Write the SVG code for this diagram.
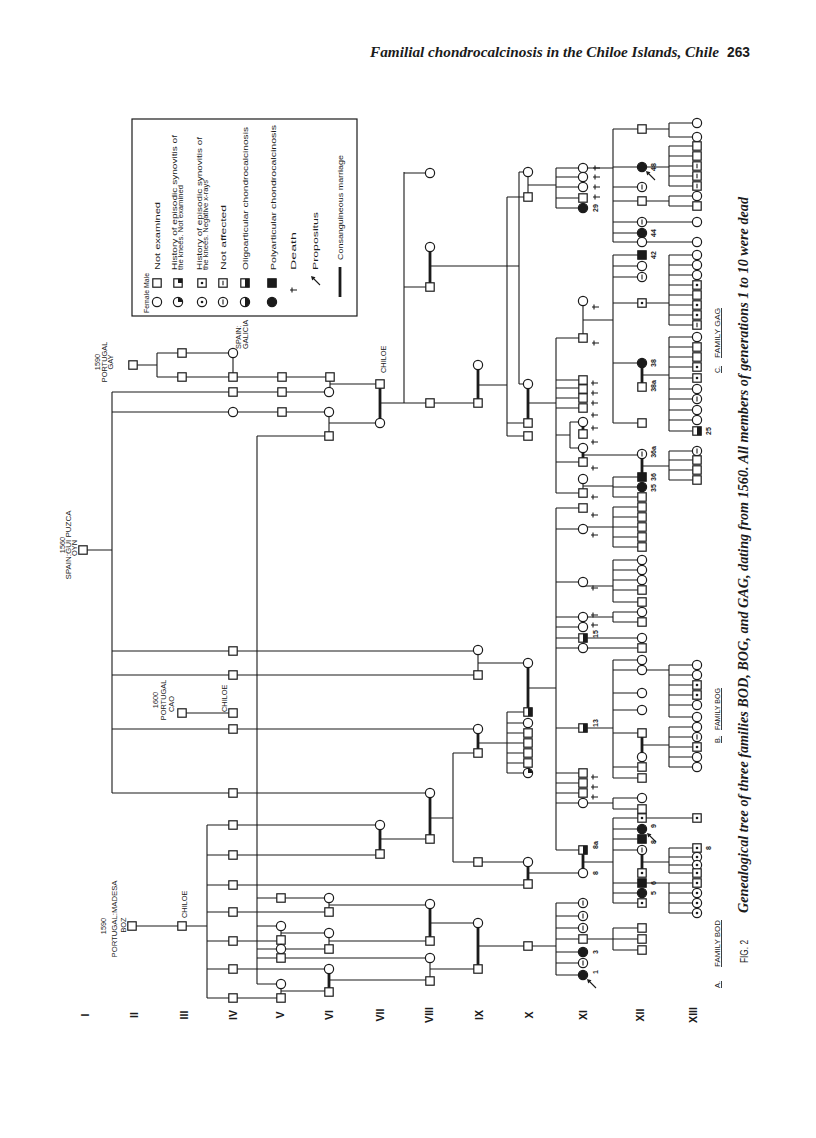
<svg xmlns="http://www.w3.org/2000/svg" width="816" height="1138" viewBox="0 0 816 1138">
<style>
.l{stroke:#1b1b1b;stroke-width:1.1;fill:none}
.t{stroke:#1b1b1b;stroke-width:2.8;fill:none}
.s{fill:#fff;stroke:#1b1b1b;stroke-width:1.2}
.k{fill:#1b1b1b}
text{font-family:"Liberation Sans","DejaVu Sans",Arial,sans-serif;fill:#1b1b1b}
.lg{font-size:7.6px}
.pl{font-size:7.4px}
.nm{font-size:7px;font-weight:bold}
.rn{font-family:"Liberation Serif","Times New Roman",serif;font-size:10.5px;font-weight:bold}
.cap{font-family:"Liberation Serif","Times New Roman",serif;font-style:italic;font-weight:bold}
.fam{font-size:7.5px;text-decoration:underline}
</style>
<defs>
<rect id="M" class="s" x="-4.2" y="-4.2" width="8.4" height="8.4"/>
<circle id="F" class="s" r="4.6"/>
<rect id="Mf" class="k" x="-4.2" y="-4.2" width="8.4" height="8.4" stroke="#1b1b1b" stroke-width="1.2"/>
<circle id="Ff" class="k" r="4.6" stroke="#1b1b1b" stroke-width="1.2"/>
<g id="Mh"><use href="#M"/><rect class="k" x="0" y="-4.2" width="4.2" height="8.4"/></g>
<g id="Fh"><use href="#F"/><path class="k" d="M0,-4.6A4.6,4.6 0 0 1 0,4.6Z"/></g>
<g id="Mq"><use href="#M"/><rect class="k" x="0" y="-4.2" width="4.2" height="4.2"/></g>
<g id="Fq"><use href="#F"/><path class="k" d="M0,0V-4.6A4.6,4.6 0 0 1 4.6,0Z"/></g>
<g id="Md"><use href="#M"/><circle class="k" r="1.3"/></g>
<g id="Fd"><use href="#F"/><circle class="k" r="1.3"/></g>
<g id="Mn"><use href="#M"/><path class="l" d="M0,-2.3V2.3"/></g>
<g id="Fn"><use href="#F"/><path class="l" d="M0,-2.5V2.5"/></g>
<path id="X" class="l" d="M-3,0H4M-1,-2.6V2.6"/>
<g id="A"><path class="l" d="M1.5,1.5L9,9"/><path class="k" d="M0,0L4.5,1.2L1.2,4.5Z"/></g>
</defs>
<rect width="816" height="1138" fill="#fff"/>

<!-- header and caption -->
<text x="370" y="57" class="cap" font-size="15" textLength="349" lengthAdjust="spacingAndGlyphs">Familial chondrocalcinosis in the Chiloe Islands, Chile</text>
<text x="727" y="57" font-family="Liberation Serif,serif" font-weight="bold" font-size="15" textLength="23" lengthAdjust="spacingAndGlyphs">263</text>
<text transform="translate(748,963) rotate(-90)" font-family="Liberation Serif,serif" font-size="11" textLength="23" lengthAdjust="spacingAndGlyphs">FIG. 2</text>
<text transform="translate(748,913) rotate(-90)" class="cap" font-size="14" textLength="716" lengthAdjust="spacingAndGlyphs">Genealogical tree of three families BOD, BOG, and GAG, dating from 1560. All members of generations 1 to 10 were dead</text>

<!-- generation labels -->
<g id="gen-labels" class="rn" text-anchor="middle">
<text transform="translate(89,1015) rotate(-90)">I</text>
<text transform="translate(138,1015) rotate(-90)">II</text>
<text transform="translate(188,1015) rotate(-90)">III</text>
<text transform="translate(237,1015) rotate(-90)">IV</text>
<text transform="translate(284,1015) rotate(-90)">V</text>
<text transform="translate(333,1015) rotate(-90)">VI</text>
<text transform="translate(384,1015) rotate(-90)">VII</text>
<text transform="translate(433,1015) rotate(-90)">VIII</text>
<text transform="translate(483,1015) rotate(-90)">IX</text>
<text transform="translate(533,1015) rotate(-90)">X</text>
<text transform="translate(587,1015) rotate(-90)">XI</text>
<text transform="translate(644,1015) rotate(-90)">XII</text>
<text transform="translate(697,1015) rotate(-90)">XIII</text>
</g>

<!-- family labels -->
<g id="family-labels" class="fam">
<text transform="translate(720,988) rotate(-90)" textLength="7" lengthAdjust="spacingAndGlyphs">A.</text>
<text transform="translate(720,967) rotate(-90)" textLength="47" lengthAdjust="spacingAndGlyphs">FAMILY BOD</text>
<text transform="translate(720,743) rotate(-90)" textLength="7" lengthAdjust="spacingAndGlyphs">B.</text>
<text transform="translate(720,730) rotate(-90)" textLength="42" lengthAdjust="spacingAndGlyphs">FAMILY BOG</text>
<text transform="translate(720,373) rotate(-90)" textLength="7" lengthAdjust="spacingAndGlyphs">C.</text>
<text transform="translate(720,358) rotate(-90)" textLength="50" lengthAdjust="spacingAndGlyphs">FAMILY GAG</text>
</g>

<!-- legend -->
<g id="legend">
<rect x="132" y="119" width="225" height="197" fill="none" stroke="#1b1b1b" stroke-width="1.2"/>
<text class="lg" transform="translate(149,313) rotate(-90)" textLength="40" lengthAdjust="spacingAndGlyphs">Female Male</text>
<use href="#F" x="157" y="302"/><use href="#M" x="157" y="283"/>
<text class="lg" transform="translate(160,270) rotate(-90)" textLength="68" lengthAdjust="spacingAndGlyphs">Not examined</text>
<use href="#Fq" x="178" y="302"/><use href="#Mq" x="178" y="283"/>
<text class="lg" transform="translate(176.5,270) rotate(-90)" textLength="135" lengthAdjust="spacingAndGlyphs">History of episodic synovitis of</text>
<text class="lg" transform="translate(183,270) rotate(-90)" textLength="85" lengthAdjust="spacingAndGlyphs">the knees. Not examined</text>
<use href="#Fd" x="202" y="302"/><use href="#Md" x="202" y="283"/>
<text class="lg" transform="translate(201.5,270) rotate(-90)" textLength="133" lengthAdjust="spacingAndGlyphs">History of episodic synovitis of</text>
<text class="lg" transform="translate(208,270) rotate(-90)" textLength="90" lengthAdjust="spacingAndGlyphs">the knees. Negative x-rays</text>
<use href="#Fn" x="223" y="302"/><use href="#Mn" x="223" y="283"/>
<text class="lg" transform="translate(226,270) rotate(-90)" textLength="65" lengthAdjust="spacingAndGlyphs">Not affected</text>
<use href="#Fh" x="245" y="302"/><use href="#Mh" x="245" y="283"/>
<text class="lg" transform="translate(248,270) rotate(-90)" textLength="143" lengthAdjust="spacingAndGlyphs">Oligoarticular chondrocalcinosis</text>
<use href="#Ff" x="272" y="302"/><use href="#Mf" x="272" y="283"/>
<text class="lg" transform="translate(275.5,270) rotate(-90)" textLength="145" lengthAdjust="spacingAndGlyphs">Polyarticular chondrocalcinosis</text>
<use href="#X" x="293" y="290"/>
<text class="lg" transform="translate(296,270) rotate(-90)" textLength="38" lengthAdjust="spacingAndGlyphs">Death</text>
<use href="#A" x="311" y="276"/>
<text class="lg" transform="translate(318,270) rotate(-90)" textLength="58" lengthAdjust="spacingAndGlyphs">Propositus</text>
<path class="t" d="M340,267V297"/>
<text class="lg" transform="translate(343,260) rotate(-90)" textLength="105" lengthAdjust="spacingAndGlyphs">Consanguineous marriage</text>
</g>

<!-- place labels -->
<g id="place-labels" class="pl" text-anchor="middle">
<text transform="translate(65,545) rotate(-90)">1560</text>
<text transform="translate(71,545) rotate(-90)" textLength="69" lengthAdjust="spacingAndGlyphs">SPAIN:GUI PUZCA</text>
<text transform="translate(77,548) rotate(-90)">OYN</text>
<text transform="translate(100,362) rotate(-90)">1590</text>
<text transform="translate(106.5,362) rotate(-90)">PORTUGAL</text>
<text transform="translate(112.5,362) rotate(-90)">GAY</text>
<text transform="translate(106,926) rotate(-90)">1590</text>
<text transform="translate(117,919) rotate(-90)" textLength="77" lengthAdjust="spacingAndGlyphs">PORTUGAL:MADESA</text>
<text transform="translate(126,925) rotate(-90)">BOZ</text>
<text transform="translate(158,700) rotate(-90)">1600</text>
<text transform="translate(166,700) rotate(-90)">PORTUGAL</text>
<text transform="translate(174,704) rotate(-90)">CAO</text>
<text transform="translate(241,349) rotate(-90)" text-anchor="start">SPAIN:</text>
<text transform="translate(248,349) rotate(-90)" text-anchor="start">GALICIA</text>
<text transform="translate(187,918) rotate(-90)" text-anchor="start">CHILOE</text>
<text transform="translate(227,712) rotate(-90)" text-anchor="start">CHILOE</text>
<text transform="translate(386,373) rotate(-90)" text-anchor="start">CHILOE</text>
</g>

<!-- connectors -->
<g id="connectors">
<path class="l" d="M133,365H157M157,353V377M157,353H182M157,377H182M182,353H233M182,377H330M233,353V377M330,377V392M330,384H380"/>
<path class="l" d="M83,550H112M112,392V793M112,392H329M112,412H329M112,651H478M112,675H478M112,729H478M112,793H430M329,412V436M329,423H380"/>
<path class="l" d="M182,713H233"/>
<path class="l" d="M257,436V984M257,436H329"/>
<path class="t" d="M380,384V423"/>
<path class="l" d="M380,403H404M404,172V403M404,173H430M404,287H430M404,403H478"/>
<path class="t" d="M430,247V287"/>
<path class="l" d="M430,266H519M519,172V384M519,172H528M519,384H528"/>
<path class="t" d="M478,365V403"/>
<path class="l" d="M478,385H507M507,197V436M507,197H528M507,423H528M507,436H528"/>
<path class="l" d="M528,172V197M528,185H556M556,168V208M556,168H583M556,177H583M556,187H583M556,198H583M556,208H583"/>
<path class="t" d="M528,384V423"/>
<path class="l" d="M528,403H556M556,338V493M556,338H583M556,380H583M556,388H583M556,398H583M556,408H583M556,435H570M570,422V448M570,422H583M570,448H583M556,493H583M556,462H583"/>
<path class="t" d="M583,422V434M583,448V462"/>
<path class="l" d="M583,479V493M583,301V338M583,320H613M613,255V423M613,255H642M613,266H642M613,277H642M613,303H642M613,363H642M613,423H642"/>
<path class="l" d="M583,168H613M613,129V242M613,129H642M613,167H642M613,187H642M613,201H642M613,222H642M613,233H642M613,242H642"/>
<path class="l" d="M642,129H669M669,123V137M669,123H697M669,137H697M642,167H669M669,146V186M669,146H697M669,156H697M669,166H697M669,176H697M669,186H697M642,201H669M669,196V206M669,196H697M669,206H697M642,222H697M642,242H697"/>
<path class="l" d="M642,303H669M669,255V325M669,255H697M669,265H697M669,275H697M669,285H697M669,295H697M669,305H697M669,315H697M669,325H697"/>
<path class="t" d="M642,363V387"/>
<path class="l" d="M642,375H669M669,337V431M669,337H697M669,347H697M669,357H697M669,367H697M669,378H697M669,389H697M669,399H697M669,410H697M669,420H697M669,431H697"/>
<path class="l" d="M583,455H642"/>
<path class="t" d="M642,454V477"/>
<path class="l" d="M642,466H669M669,451V480M669,451H697M669,460H697M669,470H697M669,480H697"/>
<path class="l" d="M583,486H613M613,477V497M613,477H642M613,487H642M613,497H642"/>
<path class="l" d="M478,650V675M478,663H528M528,688H556M556,508V850M556,508H583M556,529H583M556,582H583M556,617H583M556,627H583M556,638H583M556,648H583M556,728H583M556,773H583M556,783H583M556,793H583M556,803H583M556,850H583"/>
<path class="t" d="M528,663V712"/>
<path class="l" d="M583,527H613M613,507V547M613,507H642M613,517H642M613,527H642M613,537H642M613,547H642"/>
<path class="l" d="M583,586H613M613,560V602M613,560H642M613,570H642M613,580H642M613,590H642M613,602H642"/>
<path class="l" d="M583,617H613M613,612V622M613,612H642M613,622H642M583,638H642M583,648H642"/>
<path class="l" d="M583,728H613M613,660V778M613,660H642M613,670H642M613,693H642M613,710H642M613,733H642M613,767H642M613,778H642"/>
<path class="l" d="M642,670H669M669,665V717M669,665H697M669,675H697M669,685H697M669,695H697M669,705H697M669,717H697"/>
<path class="t" d="M642,733V757"/>
<path class="l" d="M642,745H669M669,727V767M669,727H697M669,737H697M669,747H697M669,757H697M669,767H697"/>
<path class="l" d="M583,803H613M613,798V809M613,798H642M613,809H642"/>
<path class="t" d="M478,729V753"/>
<path class="l" d="M478,743H507M507,712V773M507,712H528M507,723H528M507,733H528M507,743H528M507,753H528M507,763H528M507,773H528"/>
<path class="t" d="M430,793V839"/>
<path class="l" d="M430,818H453M453,753V862M453,753H478M453,862H528"/>
<path class="t" d="M528,862V884M583,850V873"/>
<path class="l" d="M528,873H583M583,862H613M613,818V903M613,818H642M613,829H642M613,839H642M613,850H642M613,883H642M613,893H642M613,903H642"/>
<path class="t" d="M642,850V873"/>
<path class="l" d="M642,818H697M642,862H669M669,848V873M669,848H697M669,857H697M669,865H697M669,873H697M642,883H669M669,883V913M669,883H697M669,893H697M669,903H697M669,913H697"/>
<path class="l" d="M132,926H207M207,825V998M207,825H380M207,855H380M207,885H528M207,912H329M207,941H281M207,969H329M207,998H281"/>
<path class="l" d="M257,898H329M257,926H281M257,949H329M257,958H430M257,984H281M281,926V940M281,933H329M281,984V998M281,991H329M329,898V912M329,905H430M329,933V949M329,941H430M329,980H430"/>
<path class="t" d="M329,969V992M380,825V854M430,904V941M478,923V969"/>
<path class="l" d="M380,839H430M430,923H478M430,958V981M430,969H478M478,946H556M556,903V975M556,903H583M556,916H583M556,928H583M556,939H583M556,952H583M556,963H583M556,975H583"/>
<path class="l" d="M583,939H613M613,928V950M613,928H642M613,939H642M613,950H642"/>
</g>

<!-- people -->
<g id="gen1"><g id="p_oyn"><use href="#M" x="83" y="550"/></g></g>
<g id="gen2"><g id="p_gay"><use href="#M" x="133" y="365"/></g><g id="p_boz"><use href="#M" x="132" y="926"/></g></g>
<g id="gen3"><g id="p3a"><use href="#M" x="182" y="353"/></g><g id="p3b"><use href="#M" x="182" y="377"/></g><g id="p_cao"><use href="#M" x="182" y="713"/></g><g id="p3d"><use href="#M" x="182" y="926"/></g></g>
<g id="gen4">
<g id="p4a"><use href="#F" x="233" y="353"/></g><g id="p4b"><use href="#M" x="233" y="377"/></g><g id="p4c"><use href="#M" x="233" y="392"/></g><g id="p4d"><use href="#F" x="233" y="412"/></g>
<g id="p4e"><use href="#M" x="233" y="651"/></g><g id="p4f"><use href="#M" x="233" y="675"/></g><g id="p4g"><use href="#M" x="233" y="713"/></g><g id="p4h"><use href="#M" x="233" y="729"/></g><g id="p4i"><use href="#M" x="233" y="793"/></g>
<g id="p4j"><use href="#M" x="233" y="825"/></g><g id="p4k"><use href="#M" x="233" y="855"/></g><g id="p4l"><use href="#M" x="233" y="885"/></g><g id="p4m"><use href="#M" x="233" y="912"/></g><g id="p4n"><use href="#M" x="233" y="941"/></g><g id="p4o"><use href="#M" x="233" y="969"/></g><g id="p4p"><use href="#M" x="233" y="998"/></g>
</g>
<g id="gen5">
<g id="p5a"><use href="#M" x="282" y="377"/></g><g id="p5b"><use href="#M" x="282" y="392"/></g><g id="p5c"><use href="#M" x="282" y="412"/></g>
<g id="p5d"><use href="#M" x="281" y="898"/></g><g id="p5e"><use href="#F" x="281" y="926"/></g><g id="p5f"><use href="#M" x="281" y="940"/></g><g id="p5g"><use href="#F" x="281" y="949"/></g><g id="p5h"><use href="#M" x="281" y="958"/></g><g id="p5i"><use href="#F" x="281" y="984"/></g><g id="p5j"><use href="#M" x="281" y="998"/></g>
</g>
<g id="gen6">
<g id="p6a"><use href="#M" x="330" y="377"/></g><g id="p6b"><use href="#F" x="329" y="392"/></g><g id="p6c"><use href="#F" x="329" y="412"/></g><g id="p6d"><use href="#M" x="329" y="436"/></g>
<g id="p6e"><use href="#F" x="329" y="898"/></g><g id="p6f"><use href="#M" x="329" y="912"/></g><g id="p6g"><use href="#F" x="329" y="933"/></g><g id="p6h"><use href="#M" x="329" y="949"/></g><g id="p6i"><use href="#F" x="329" y="969"/></g><g id="p6j"><use href="#M" x="329" y="992"/></g>
</g>
<g id="gen7">
<g id="p7a"><use href="#M" x="380" y="384"/></g><g id="p7b"><use href="#F" x="380" y="423"/></g><g id="p7c"><use href="#F" x="380" y="825"/></g><g id="p7d"><use href="#M" x="380" y="854"/></g>
</g>
<g id="gen8">
<g id="p8a"><use href="#F" x="430" y="173"/></g><g id="p8b"><use href="#F" x="430" y="247"/></g><g id="p8c"><use href="#M" x="430" y="287"/></g><g id="p8d"><use href="#M" x="430" y="403"/></g>
<g id="p8e"><use href="#F" x="430" y="793"/></g><g id="p8f"><use href="#M" x="430" y="839"/></g><g id="p8g"><use href="#F" x="430" y="904"/></g><g id="p8h"><use href="#M" x="430" y="941"/></g><g id="p8i"><use href="#F" x="430" y="958"/></g><g id="p8j"><use href="#M" x="430" y="981"/></g>
</g>
<g id="gen9">
<g id="p9a"><use href="#F" x="478" y="365"/></g><g id="p9b"><use href="#M" x="478" y="403"/></g><g id="p9c"><use href="#F" x="478" y="650"/></g><g id="p9d"><use href="#M" x="478" y="675"/></g><g id="p9e"><use href="#F" x="478" y="729"/></g><g id="p9f"><use href="#M" x="478" y="753"/></g><g id="p9g"><use href="#M" x="478" y="862"/></g><g id="p9h"><use href="#F" x="478" y="923"/></g><g id="p9i"><use href="#M" x="478" y="969"/></g>
</g>
<g id="gen10">
<g id="p10a"><use href="#F" x="528" y="172"/></g><g id="p10b"><use href="#M" x="528" y="197"/></g><g id="p10c"><use href="#F" x="528" y="384"/></g><g id="p10d"><use href="#M" x="528" y="423"/></g><g id="p10e"><use href="#M" x="528" y="436"/></g>
<g id="p10f"><use href="#F" x="528" y="663"/></g><g id="p10g"><use href="#Mh" x="528" y="712"/></g><g id="p10h"><use href="#F" x="528" y="723"/></g><g id="p10i"><use href="#M" x="528" y="733"/></g><g id="p10j"><use href="#M" x="528" y="743"/></g><g id="p10k"><use href="#M" x="528" y="753"/></g><g id="p10l"><use href="#M" x="528" y="763"/></g><g id="p10m"><use href="#Fq" x="528" y="773"/></g>
<g id="p10n"><use href="#F" x="528" y="862"/></g><g id="p10o"><use href="#M" x="528" y="884"/></g><g id="p10p"><use href="#M" x="528" y="946"/></g>
</g>
<g id="gen11">
<g id="p11a"><use href="#F" x="583" y="168"/></g><g id="p11b"><use href="#F" x="583" y="177"/></g><g id="p11c"><use href="#F" x="583" y="187"/></g><g id="p11d"><use href="#M" x="583" y="198"/></g><g id="p11e"><use href="#Ff" x="583" y="208"/></g>
<g id="p11f"><use href="#F" x="583" y="301"/></g><g id="p11g"><use href="#M" x="583" y="338"/></g>
<g id="p11h"><use href="#M" x="583" y="380"/></g><g id="p11i"><use href="#M" x="583" y="389"/></g><g id="p11j"><use href="#M" x="583" y="398"/></g><g id="p11k"><use href="#M" x="583" y="408"/></g><g id="p11l"><use href="#F" x="583" y="422"/></g><g id="p11m"><use href="#M" x="583" y="434"/></g><g id="p11n"><use href="#F" x="583" y="448"/></g><g id="p11o"><use href="#M" x="583" y="462"/></g><g id="p11p"><use href="#F" x="583" y="479"/></g><g id="p11q"><use href="#M" x="583" y="493"/></g>
<g id="p11r"><use href="#M" x="583" y="508"/></g><g id="p11s"><use href="#F" x="583" y="529"/></g><g id="p11t"><use href="#F" x="583" y="582"/></g><g id="p11u"><use href="#F" x="583" y="617"/></g><g id="p11v"><use href="#F" x="583" y="627"/></g><g id="p11w"><use href="#Mh" x="583" y="638"/></g><g id="p11x"><use href="#F" x="583" y="648"/></g><g id="p11y"><use href="#Mh" x="583" y="728"/></g>
<g id="p11z"><use href="#M" x="583" y="773"/></g><g id="p11aa"><use href="#M" x="583" y="783"/></g><g id="p11ab"><use href="#M" x="583" y="793"/></g><g id="p11ac"><use href="#F" x="583" y="803"/></g><g id="p11ad"><use href="#Mh" x="583" y="850"/></g><g id="p11ae"><use href="#F" x="583" y="873"/></g>
<g id="p11af"><use href="#Fn" x="583" y="903"/></g><g id="p11ag"><use href="#Fn" x="583" y="916"/></g><g id="p11ah"><use href="#Fn" x="583" y="928"/></g><g id="p11ai"><use href="#M" x="583" y="939"/></g><g id="p11aj"><use href="#Ff" x="583" y="952"/></g><g id="p11ak"><use href="#Fn" x="583" y="963"/></g><g id="p11al"><use href="#Ff" x="583" y="975"/></g>
</g>
<g id="gen12">
<g id="p12a"><use href="#M" x="642" y="129"/></g><g id="p12b"><use href="#Ff" x="642" y="167"/></g><g id="p12c"><use href="#Fn" x="642" y="187"/></g><g id="p12d"><use href="#M" x="642" y="201"/></g><g id="p12e"><use href="#Fn" x="642" y="222"/></g><g id="p12f"><use href="#Ff" x="642" y="233"/></g><g id="p12g"><use href="#F" x="642" y="242"/></g>
<g id="p12h"><use href="#Mf" x="642" y="255"/></g><g id="p12i"><use href="#F" x="642" y="266"/></g><g id="p12j"><use href="#Fn" x="642" y="277"/></g><g id="p12k"><use href="#Md" x="642" y="303"/></g><g id="p12l"><use href="#Ff" x="642" y="363"/></g><g id="p12m"><use href="#M" x="642" y="387"/></g><g id="p12n"><use href="#M" x="642" y="423"/></g>
<g id="p12o"><use href="#Fn" x="642" y="454"/></g><g id="p12p"><use href="#Mf" x="642" y="477"/></g><g id="p12q"><use href="#Ff" x="642" y="487"/></g><g id="p12r"><use href="#M" x="642" y="497"/></g>
<g id="p12s"><use href="#M" x="642" y="507"/></g><g id="p12t"><use href="#M" x="642" y="517"/></g><g id="p12u"><use href="#M" x="642" y="527"/></g><g id="p12v"><use href="#M" x="642" y="537"/></g><g id="p12w"><use href="#M" x="642" y="547"/></g>
<g id="p12x"><use href="#F" x="642" y="560"/></g><g id="p12y"><use href="#F" x="642" y="570"/></g><g id="p12z"><use href="#F" x="642" y="580"/></g><g id="p12aa"><use href="#M" x="642" y="590"/></g><g id="p12ab"><use href="#M" x="642" y="602"/></g>
<g id="p12ac"><use href="#F" x="642" y="612"/></g><g id="p12ad"><use href="#M" x="642" y="622"/></g><g id="p12ae"><use href="#F" x="642" y="638"/></g><g id="p12af"><use href="#M" x="642" y="648"/></g>
<g id="p12ag"><use href="#F" x="642" y="660"/></g><g id="p12ah"><use href="#F" x="642" y="670"/></g><g id="p12ai"><use href="#F" x="642" y="693"/></g><g id="p12aj"><use href="#F" x="642" y="710"/></g><g id="p12ak"><use href="#M" x="642" y="733"/></g><g id="p12al"><use href="#F" x="642" y="757"/></g><g id="p12am"><use href="#M" x="642" y="767"/></g><g id="p12an"><use href="#M" x="642" y="778"/></g>
<g id="p12ao"><use href="#F" x="642" y="798"/></g><g id="p12ap"><use href="#M" x="642" y="809"/></g>
<g id="p12aq"><use href="#Md" x="642" y="818"/></g><g id="p12ar"><use href="#Ff" x="642" y="829"/></g><g id="p12as"><use href="#Mf" x="642" y="839"/></g><g id="p12at"><use href="#Fn" x="642" y="850"/></g><g id="p12au"><use href="#Md" x="642" y="873"/></g><g id="p12av"><use href="#Mf" x="642" y="883"/></g><g id="p12aw"><use href="#Ff" x="642" y="893"/></g><g id="p12ax"><use href="#Md" x="642" y="903"/></g>
<g id="p12ay"><use href="#M" x="642" y="928"/></g><g id="p12az"><use href="#M" x="642" y="939"/></g><g id="p12ba"><use href="#M" x="642" y="950"/></g>
</g>
<g id="gen13">
<g id="p13a"><use href="#F" x="697" y="123"/></g><g id="p13b"><use href="#F" x="697" y="137"/></g>
<g id="p13c"><use href="#M" x="697" y="146"/></g><g id="p13d"><use href="#M" x="697" y="156"/></g><g id="p13e"><use href="#Mn" x="697" y="166"/></g><g id="p13f"><use href="#Mn" x="697" y="176"/></g><g id="p13g"><use href="#Mn" x="697" y="186"/></g>
<g id="p13h"><use href="#F" x="697" y="196"/></g><g id="p13i"><use href="#M" x="697" y="206"/></g><g id="p13j"><use href="#F" x="697" y="222"/></g><g id="p13k"><use href="#F" x="697" y="242"/></g>
<g id="p13l"><use href="#F" x="697" y="255"/></g><g id="p13m"><use href="#F" x="697" y="265"/></g><g id="p13n"><use href="#F" x="697" y="275"/></g><g id="p13o"><use href="#Md" x="697" y="285"/></g><g id="p13p"><use href="#M" x="697" y="295"/></g><g id="p13q"><use href="#Md" x="697" y="305"/></g><g id="p13r"><use href="#Md" x="697" y="315"/></g><g id="p13s"><use href="#Mn" x="697" y="325"/></g>
<g id="p13t"><use href="#F" x="697" y="337"/></g><g id="p13u"><use href="#M" x="697" y="347"/></g><g id="p13v"><use href="#M" x="697" y="357"/></g><g id="p13w"><use href="#Md" x="697" y="367"/></g><g id="p13x"><use href="#Md" x="697" y="378"/></g><g id="p13y"><use href="#F" x="697" y="389"/></g><g id="p13z"><use href="#Fn" x="697" y="399"/></g><g id="p13aa"><use href="#F" x="697" y="410"/></g><g id="p13ab"><use href="#F" x="697" y="420"/></g><g id="p13ac"><use href="#Mh" x="697" y="431"/></g>
<g id="p13ad"><use href="#Fn" x="697" y="451"/></g><g id="p13ae"><use href="#M" x="697" y="460"/></g><g id="p13af"><use href="#M" x="697" y="470"/></g><g id="p13ag"><use href="#M" x="697" y="480"/></g>
<g id="p13ah"><use href="#F" x="697" y="665"/></g><g id="p13ai"><use href="#F" x="697" y="675"/></g><g id="p13aj"><use href="#Md" x="697" y="685"/></g><g id="p13ak"><use href="#Md" x="697" y="695"/></g><g id="p13al"><use href="#F" x="697" y="705"/></g><g id="p13am"><use href="#F" x="697" y="717"/></g>
<g id="p13an"><use href="#F" x="697" y="727"/></g><g id="p13ao"><use href="#Fn" x="697" y="737"/></g><g id="p13ap"><use href="#Md" x="697" y="747"/></g><g id="p13aq"><use href="#F" x="697" y="757"/></g><g id="p13ar"><use href="#F" x="697" y="767"/></g>
<g id="p13as"><use href="#Md" x="697" y="818"/></g><g id="p13at"><use href="#Md" x="697" y="848"/></g><g id="p13au"><use href="#Fd" x="697" y="857"/></g><g id="p13av"><use href="#Fd" x="697" y="865"/></g><g id="p13aw"><use href="#Md" x="697" y="873"/></g>
<g id="p13ax"><use href="#Md" x="697" y="883"/></g><g id="p13ay"><use href="#Fd" x="697" y="893"/></g><g id="p13az"><use href="#Fd" x="697" y="903"/></g><g id="p13ba"><use href="#Fd" x="697" y="913"/></g>
</g>

<!-- death marks, propositus arrows, case numbers -->
<g id="deaths">
<use href="#X" x="596" y="168"/><use href="#X" x="596" y="177"/><use href="#X" x="596" y="187"/><use href="#X" x="596" y="197"/>
<use href="#X" x="595" y="307"/><use href="#X" x="595" y="343"/>
<use href="#X" x="594" y="383"/><use href="#X" x="594" y="393"/><use href="#X" x="594" y="403"/><use href="#X" x="594" y="415"/><use href="#X" x="594" y="428"/><use href="#X" x="594" y="442"/><use href="#X" x="594" y="468"/><use href="#X" x="594" y="497"/><use href="#X" x="594" y="515"/><use href="#X" x="594" y="535"/><use href="#X" x="594" y="588"/><use href="#X" x="594" y="625"/><use href="#X" x="594" y="615"/>
<use href="#X" x="594" y="777"/><use href="#X" x="594" y="787"/><use href="#X" x="594" y="797"/>
</g>
<g id="propositi">
<use href="#A" x="646" y="171"/><use href="#A" x="647" y="833"/><use href="#A" x="587" y="979"/>
</g>
<g id="case-numbers" class="nm" text-anchor="middle">
<text transform="translate(598,208) rotate(-90)">29</text>
<text transform="translate(656,167) rotate(-90)">48</text>
<text transform="translate(656,233) rotate(-90)">44</text>
<text transform="translate(656,255) rotate(-90)">42</text>
<text transform="translate(656,363) rotate(-90)">38</text>
<text transform="translate(656,386) rotate(-90)">38a</text>
<text transform="translate(711,431) rotate(-90)">25</text>
<text transform="translate(656,452) rotate(-90)">36a</text>
<text transform="translate(656,477) rotate(-90)">36</text>
<text transform="translate(656,488) rotate(-90)">35</text>
<text transform="translate(598,634) rotate(-90)">15</text>
<text transform="translate(598,723) rotate(-90)">13</text>
<text transform="translate(598,845) rotate(-90)">8a</text>
<text transform="translate(598,873) rotate(-90)">8</text>
<text transform="translate(656,826) rotate(-90)">9</text>
<text transform="translate(656,842) rotate(-90)">8</text>
<text transform="translate(656,883) rotate(-90)">6</text>
<text transform="translate(656,893) rotate(-90)">5</text>
<text transform="translate(711,848) rotate(-90)">8</text>
<text transform="translate(598,952) rotate(-90)">3</text>
<text transform="translate(598,972) rotate(-90)">1</text>
</g>
</svg>
